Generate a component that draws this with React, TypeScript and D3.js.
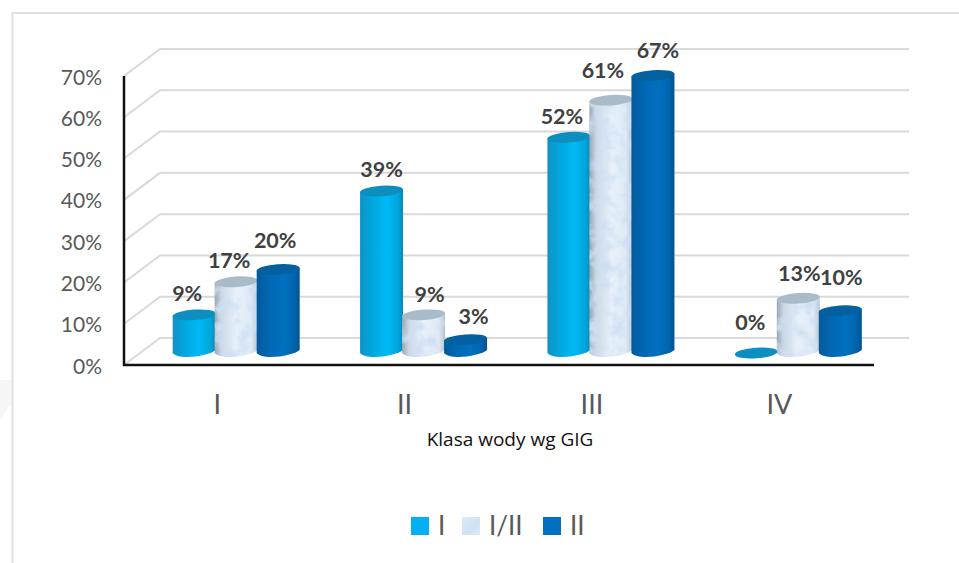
import React, { useMemo } from "react";
import * as d3 from "d3";

// Share of samples per water class, in percent, for each series.
const categories = ["I", "II", "III", "IV"];
const seriesNames = ["I", "I/II", "II"];
const seriesI = [9, 39, 52, 0];
const seriesMixed = [17, 9, 61, 13];
const seriesII = [20, 3, 67, 10];
const yTicks = [0, 10, 20, 30, 40, 50, 60, 70];

// Hand-placed label nudges (dx, dy from the top of each cylinder), as the labels dodge one another.
const labelNudges = [
  [[-7, -21], [-7, -21], [-3, -29]],
  [[0, -21], [6, -20], [8, -23]],
  [[-7, -21], [-8, -30], [5, -25]],
  [[-6, -30], [1, -25], [1, -33]],
];

const W = 959;
const H = 563;
const frontBase = 365;
const depthX = 36;
const depthY = 27;
const barBase = 353;
const barW = 43;
const barRy = 7;

const yFront = d3.scaleLinear().domain([0, 70]).range([frontBase, 76]);
const xGroup = d3.scaleBand<string>().domain(categories).range([142.5, 892]);

const gridColor = "#d9d9d9";
const textGray = "#595959";
const labelGray = "#404040";

const gradients = [
  { id: "cylA", stops: [["0", "#0f93c4"], ["0.3", "#00a8e0"], ["0.62", "#00b9f5"], ["0.88", "#00a6dd"], ["1", "#0f86b4"]], top: "#0c8fbf" },
  { id: "cylB", stops: [["0", "#98a6b5"], ["0.16", "#cbd8e5"], ["0.5", "#e8f1fa"], ["0.85", "#dfeaf5"], ["1", "#b4c2d0"]], top: "#a9bac9" },
  { id: "cylC", stops: [["0", "#045a9c"], ["0.3", "#0068b4"], ["0.62", "#0070c0"], ["0.88", "#0064ad"], ["1", "#04528e"]], top: "#04609f" },
];

function cylinderBody(cx: number, yTop: number, yBottom: number): string {
  const rx = barW / 2;
  const p = d3.path();
  p.moveTo(cx - rx, yTop);
  p.lineTo(cx - rx, yBottom);
  p.bezierCurveTo(cx - rx + 6, yBottom + barRy * 1.1, cx + rx - 6, yBottom + barRy * 0.4, cx + rx, yBottom - 3);
  p.lineTo(cx + rx, yTop - 3);
  p.closePath();
  return p.toString();
}

export default function App() {
  const seriesValues = [seriesI, seriesMixed, seriesII];
  const bars = useMemo(
    () =>
      categories.flatMap((cat, c) =>
        seriesValues.map((vals, s) => {
          const v = vals[c];
          const cx = (xGroup(cat) as number) + xGroup.bandwidth() / 2 + (s - 1) * 42;
          const h = frontBase - yFront(v);
          return { c, s, v, cx, yTop: barBase - h };
        })
      ),
    []
  );

  return (
    <svg width={W} height={H} viewBox={`0 0 ${W} ${H}`} style={{ position: "absolute", left: 0, top: 0, background: "#fff" }}>
      <defs>
        {gradients.map((g) => (
          <linearGradient key={g.id} id={g.id} x1="0" x2="1" y1="0" y2="0">
            {g.stops.map(([o, col]) => (
              <stop key={o} offset={o} stopColor={col} />
            ))}
          </linearGradient>
        ))}
        <filter id="mottle" x="0" y="0" width="100%" height="100%">
          <feTurbulence type="fractalNoise" baseFrequency="0.08" numOctaves="3" seed="4" result="n" />
          <feColorMatrix in="n" type="matrix" values="0 0 0 0 0.62  0 0 0 0 0.74  0 0 0 0 0.9  0 0 0 2.6 -1.05" result="tint" />
          <feComposite in="tint" in2="SourceAlpha" operator="in" result="clipped" />
          <feMerge>
            <feMergeNode in="SourceGraphic" />
            <feMergeNode in="clipped" />
          </feMerge>
        </filter>
        <linearGradient id="swatchB" x1="0" x2="1" y1="0" y2="1">
          <stop offset="0" stopColor="#dfeaf5" />
          <stop offset="0.6" stopColor="#cfe1f2" />
          <stop offset="1" stopColor="#e2edf7" />
        </linearGradient>
      </defs>

      {/* Faint page decoration in the left margin */}
      <path d="M0,380 H11 V404 L0,420 Z" fill="#f6f6f6" />

      {/* Chart frame: open on the right and at the bottom */}
      <path d="M12.5,563 V13 H959" fill="none" stroke="#e0e0e0" strokeWidth={2} />

      {/* Back wall gridlines with their receding side-wall segments */}
      {yTicks.map((t) => {
        const y = yFront(t);
        return (
          <path
            key={t}
            d={`M${124},${y} L${124 + depthX},${y - depthY} H909`}
            fill="none"
            stroke={gridColor}
            strokeWidth={2}
          />
        );
      })}

      {/* Value axis and base line */}
      <line x1={124} x2={124} y1={76} y2={366} stroke="#111" strokeWidth={2.5} />
      <line x1={123} x2={874} y1={365} y2={365} stroke="#111" strokeWidth={2.5} />

      {yTicks.map((t) => (
        <text key={t} x={102} y={yFront(t) + 8.5} textAnchor="end" fontFamily="Lato" fontSize={21} fill={textGray}>
          {t}%
        </text>
      ))}

      {/* Cylinders, drawn left to right so neighbours overlap */}
      {bars.map((b) => {
        const g = gradients[b.s];
        return (
          <g key={`${b.c}-${b.s}`}>
            {b.v > 0 && (
              <path
                d={cylinderBody(b.cx, b.yTop, barBase)}
                fill={`url(#${g.id})`}
                filter={b.s === 1 ? "url(#mottle)" : undefined}
              />
            )}
            <ellipse
              cx={b.cx}
              cy={b.yTop - (b.v > 0 ? 1 : 0)}
              rx={barW / 2}
              ry={barRy * 0.75}
              fill={g.top}
              transform={`rotate(-4 ${b.cx} ${b.yTop})`}
            />
          </g>
        );
      })}

      {/* Value labels */}
      {bars.map((b) => {
        const [dx, dy] = labelNudges[b.c][b.s];
        return (
          <text
            key={`l-${b.c}-${b.s}`}
            x={b.cx + dx}
            y={b.yTop + dy + 6.5}
            textAnchor="middle"
            fontFamily="Lato"
            fontWeight={700}
            fontSize={21.5}
            fill={labelGray}
          >
            {b.v}%
          </text>
        );
      })}

      {/* Category labels and axis title */}
      {categories.map((cat) => (
        <text
          key={cat}
          x={(xGroup(cat) as number) + xGroup.bandwidth() / 2 - 19}
          y={414}
          textAnchor="middle"
          fontFamily="Lato"
          fontSize={27}
          fill={textGray}
        >
          {cat}
        </text>
      ))}
      <text x={510} y={446} textAnchor="middle" fontFamily="Open Sans" fontSize={19} fill="#111">
        Klasa wody wg GIG
      </text>

      {/* Legend */}
      {seriesNames.map((name, i) => {
        const xs = [411, 462, 543];
        return (
          <g key={name + i}>
            <rect
              x={xs[i]}
              y={517}
              width={18}
              height={18}
              fill={i === 0 ? "#00b0f0" : i === 1 ? "url(#swatchB)" : "#0070c0"}
            />
            <text x={xs[i] + 27} y={535} fontFamily="Lato" fontSize={26} fill={textGray}>
              {name}
            </text>
          </g>
        );
      })}
    </svg>
  );
}
